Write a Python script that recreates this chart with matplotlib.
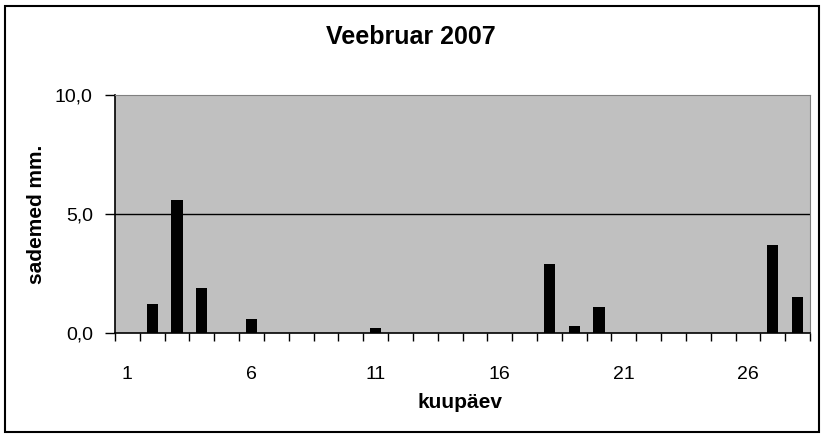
import matplotlib
matplotlib.use('Agg')
from matplotlib import pyplot as plt
from matplotlib.patches import Rectangle
from matplotlib.ticker import FixedLocator, FuncFormatter

# --- data
days = list(range(1, 29))
rain = [0, 1.2, 5.6, 1.9, 0, 0.6, 0, 0, 0, 0,
        0.2, 0, 0, 0, 0, 0, 0, 2.9, 0.3, 1.1,
        0, 0, 0, 0, 0, 0, 3.7, 1.5]
label_days = [1, 6, 11, 16, 21, 26]
y_ticks = [0, 5, 10]

W, H = 826, 438
plt.rcParams['font.family'] = ['Liberation Sans', 'DejaVu Sans']

fig = plt.figure(figsize=(W / 100, H / 100), dpi=100)

# outer frame of the chart
fig.patches.append(Rectangle((5 / W, 6 / H), 814 / W, 426 / H, transform=fig.transFigure,
                             fill=False, edgecolor='black', linewidth=1.5))

ax = fig.add_axes([115 / W, (H - 333) / H, 695 / W, 238 / H])
ax.set_facecolor('#c0c0c0')
ax.bar(days, rain, width=0.45, color='black', zorder=3)

ax.set_xlim(0.5, 28.5)
ax.set_ylim(0, 10)

# gridline at 5
ax.axhline(5, color='black', linewidth=1, zorder=2)

for s in ('top', 'right'):
    ax.spines[s].set_color('#808080')
for s in ('left', 'bottom'):
    ax.spines[s].set_color('black')
    ax.spines[s].set_linewidth(1.2)

ax.xaxis.set_major_locator(FixedLocator(label_days))
ax.xaxis.set_minor_locator(FixedLocator([d + 0.5 for d in range(0, 29)]))
ax.tick_params(axis='x', which='major', length=0, pad=24, labelsize=14)
ax.tick_params(axis='x', which='minor', length=6, width=1, direction='out')

ax.set_yticks(y_ticks)
ax.yaxis.set_major_formatter(FuncFormatter(lambda v, p: f"{v:.1f}".replace('.', ',')))
ax.tick_params(axis='y', length=7, width=1, pad=9, labelsize=14)

fig.text(411 / W, 1 - 37 / H, 'Veebruar 2007', ha='center', va='center',
         fontsize=18, fontweight='bold')
fig.text(460 / W, 1 - 403 / H, 'kuupäev', ha='center', va='center',
         fontsize=15, fontweight='bold')
fig.text(37 / W, 1 - 214 / H, 'sademed mm.', ha='center', va='center',
         rotation=90, fontsize=15, fontweight='bold')

fig.savefig('out.png', dpi=100)
